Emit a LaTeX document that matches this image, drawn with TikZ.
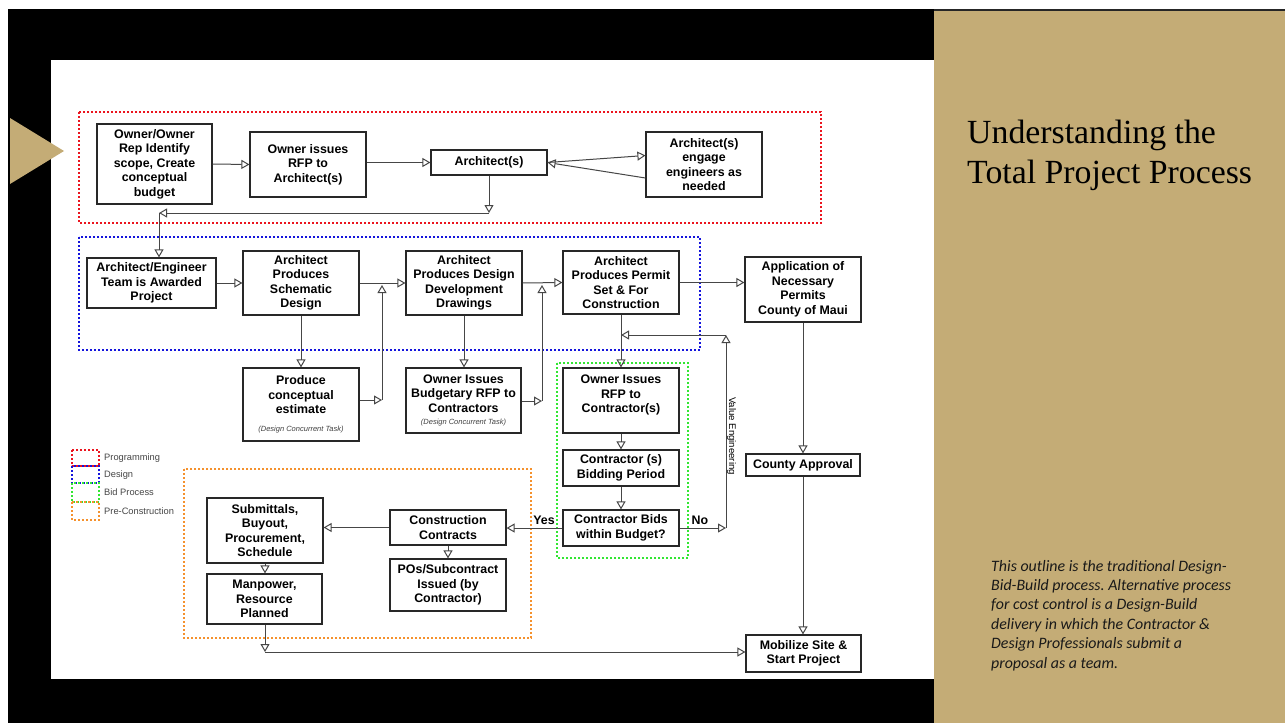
\documentclass[tikz,border=0pt]{standalone}
\usepackage{fontspec}
\setmainfont{Liberation Sans}
\newfontfamily\titlefont{Liberation Serif}
\newfontfamily\notefont{Carlito}
\usetikzlibrary{arrows.meta}
\definecolor{gold}{RGB}{196,172,118}
\definecolor{boxline}{RGB}{40,40,40}
\definecolor{connc}{RGB}{70,70,70}
\definecolor{progred}{RGB}{235,20,30}
\definecolor{desblue}{RGB}{20,20,220}
\definecolor{bidgreen}{RGB}{50,230,50}
\definecolor{preorange}{RGB}{245,145,45}
\definecolor{legtext}{RGB}{70,70,70}
\newcommand\concurfont{\fontsize{7.5}{9}\selectfont\mdseries\itshape\color{black!75}}
\begin{document}
\frenchspacing
\begin{tikzpicture}[x=1pt,y=-1pt,
  box/.style={draw=boxline, line width=1.2pt, fill=white, align=center, inner sep=1pt,
    font=\fontsize{12.4}{14.5}\selectfont\bfseries, text=black},
  conn/.style={draw=connc, line width=1pt, -{Triangle[open, length=8pt, width=9pt]}},
  phase/.style={line width=2pt, dash pattern=on 2pt off 2pt},
  legend/.style={anchor=west, inner sep=0pt, text=legtext, font=\fontsize{9.3}{11}\selectfont},
  yesno/.style={inner sep=0pt, font=\fontsize{12.4}{14.5}\selectfont\bfseries}
]
\useasboundingbox (0,0) rectangle (1285,723);
% slide background
\fill[white] (0,0) rectangle (1285,723);
\fill[black] (8,9) rectangle (934,723);
\fill[black!85] (934,9) rectangle (1285,11);
\fill[gold] (934,11) rectangle (1285,723);
\fill[white] (51,60) rectangle (934,679);
\fill[gold] (10,118) -- (64,151) -- (10,184) -- cycle;

% phase boxes
\draw[phase, progred] (79,112) rectangle (821,223);
\draw[phase, desblue] (79,237) rectangle (700,350);
\draw[phase, bidgreen] (557,363) rectangle (688,558);
\draw[phase, preorange] (184,469) rectangle (531,638);

% legend
\draw[phase, progred, line width=1.6pt] (72,450) rectangle (99,466);
\draw[phase, desblue, line width=1.6pt] (72,466) rectangle (99,483);
\draw[phase, bidgreen, line width=1.6pt] (72,483) rectangle (99,502);
\draw[phase, preorange, line width=1.6pt] (72,502) rectangle (99,520);
\node[legend] (lg1) at (104,458) {Programming};
\node[legend] (lg2) at (104,475) {Design};
\node[legend] (lg3) at (104,492) {Bid Process};
\node[legend] (lg4) at (104,511) {Pre-Construction};

% nodes
\node[box, minimum width=115pt, minimum height=80pt] (n1) at (154.5,164) {Owner/Owner\\Rep Identify\\scope, Create\\conceptual\\budget};
\node[box, minimum width=116pt, minimum height=65pt] (n2) at (308,164.5) {Owner issues\\RFP to\\Architect(s)};
\node[box, minimum width=116pt, minimum height=25pt] (n3) at (489,162.5) {Architect(s)};
\node[box, minimum width=116pt, minimum height=65pt] (n4) at (704,164.5) {Architect(s)\\engage\\engineers as\\needed};
\node[box, minimum width=129pt, minimum height=50pt] (n5) at (151.5,283) {Architect/Engineer\\Team is Awarded\\Project};
\node[box, minimum width=116pt, minimum height=64pt] (n6) at (301,283) {Architect\\Produces\\Schematic\\Design};
\node[box, minimum width=116pt, minimum height=64pt] (n7) at (464,283) {Architect\\Produces Design\\Development\\Drawings};
\node[box, minimum width=116pt, minimum height=63pt] (n10) at (621,282.5) {Architect\\Produces Permit\\Set \& For\\Construction};
\node[box, minimum width=116pt, minimum height=65pt] (n11) at (803,289.5) {Application of\\Necessary\\Permits\\County of Maui};
\node[box, minimum width=116pt, minimum height=73pt] (n8) at (301,404.5) {Produce\\conceptual\\estimate\\[3pt]{\concurfont (Design Concurrent Task)}};
\node[box, minimum width=115pt, minimum height=65pt] (n9) at (463.5,400.5) {Owner Issues\\Budgetary RFP to\\Contractors\\[-2pt]{\concurfont (Design Concurrent Task)}};
\node[box, minimum width=116pt, minimum height=65pt] (n12) at (621,400.5) {Owner Issues\\RFP to\\Contractor(s)\\[-1pt]};
\node[box, minimum width=116pt, minimum height=36pt] (n13) at (621,468) {Contractor (s)\\Bidding Period};
\node[box, minimum width=116pt, minimum height=36pt] (n14) at (621,528) {Contractor Bids\\within Budget?};
\node[box, minimum width=116pt, minimum height=35pt] (cc) at (448,527.5) {Construction\\Contracts};
\node[box, minimum width=116pt, minimum height=52pt] (po) at (448,585) {POs/Subcontract\\Issued (by\\Contractor)};
\node[box, minimum width=116pt, minimum height=65pt] (sub) at (265,530.5) {Submittals,\\Buyout,\\Procurement,\\Schedule};
\node[box, minimum width=115pt, minimum height=50pt] (man) at (264.5,599) {Manpower,\\Resource\\Planned};
\node[box, minimum width=114pt, minimum height=22pt] (cty) at (803,465) {County Approval};
\node[box, minimum width=115pt, minimum height=37pt] (mob) at (803.5,653.5) {Mobilize Site \&\\Start Project};

% waypoints
\coordinate (c1) at (489,213);
\coordinate (c2) at (159,213);
\coordinate (c3) at (382,400);
\coordinate (c4) at (382,285);
\coordinate (c5) at (542,401);
\coordinate (c6) at (542,285);
\coordinate (c7) at (726,335);
\coordinate (c8) at (621,335);
\coordinate (c9) at (726,528);
\coordinate (c10) at (265,652);

% connectors
\draw[conn] (n1.east) -- (n2.west);
\draw[conn] (n2.east|-n3.west) -- (n3.west);
\draw[conn] (n3.east) -- ([yshift=9pt]n4.west);
\draw[conn] ([yshift=-13.5pt]n4.west) -- (n3.east);
\draw[conn] (n3.south) -- (c1);
\draw[conn] (c1) -- (c2);
\draw[conn] (c2) -- (c2|-n5.north);
\draw[conn] (n5.east) -- (n6.west);
\draw[conn] (n6.east) -- (n7.west);
\draw[conn] (n6.south) -- (n8.north);
\draw[conn] (n8.east|-c3) -- (c3);
\draw[conn] (c3) -- (c4);
\draw[conn] (n7.south) -- (n7.south|-n9.north);
\draw[conn] (n9.east|-c5) -- (c5);
\draw[conn] (c5) -- (c6);
\draw[conn] (n7.east) -- (n10.west);
\draw[conn] (n10.east) -- (n10.east-|n11.west);
\draw[conn] (n10.south) -- (n12.north);
\draw[conn] (n12.south) -- (n13.north);
\draw[conn] (n13.south) -- (n14.north);
\draw[conn] (n14.east) -- (c9);
\draw[conn] (c9) -- (c7);
\draw[conn] (c7) -- (c8);
\draw[conn] (n14.west) -- (n14.west-|cc.east);
\draw[conn] (cc.west) -- (cc.west-|sub.east);
\draw[conn] (cc.south) -- (po.north);
\draw[conn] (sub.south) -- (sub.south|-man.north);
\draw[conn] (man.south-|c10) -- (c10);
\draw[conn] (c10) -- (c10-|mob.west);
\draw[conn] (n11.south) -- (cty.north);
\draw[conn] (cty.south) -- (cty.south|-mob.north);

% labels
\node[rotate=-90, inner sep=0pt, font=\fontsize{9.6}{11}\selectfont] (ve) at (731.5,436) {Value Engineering};
\node[yesno] (yes) at (544,520) {Yes};
\node[yesno] (no) at (700,520) {No};

% right panel
\node[anchor=base west, align=left, inner sep=0pt, font=\titlefont\fontsize{33.8}{40}\selectfont] (title) at (967,183) {Understanding the\\Total Project Process};
\node[anchor=base west, align=left, inner sep=0pt, text=black!90, font=\notefont\itshape\fontsize{15.9}{19.4}\selectfont] (note) at (991,668) {This outline is the traditional Design-\\Bid-Build process. Alternative process\\for cost control is a Design-Build\\delivery in which the Contractor \&\\Design Professionals submit a\\proposal as a team.};
\end{tikzpicture}
\end{document}
